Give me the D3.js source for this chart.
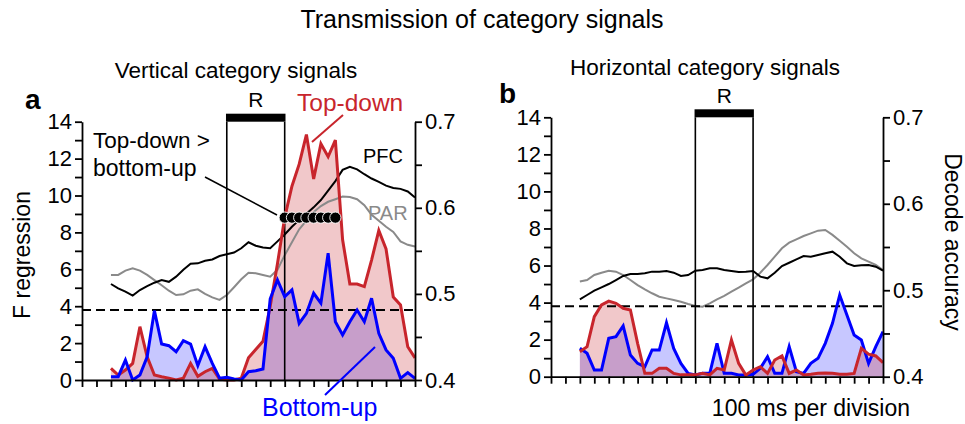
<!DOCTYPE html>
<html>
<head>
<meta charset="utf-8">
<script src="https://cdn.jsdelivr.net/npm/d3@7"></script>
<style>
  body { margin: 0; background: #fff; }
  svg text { font-family: "Liberation Sans", Arial, sans-serif; }
</style>
</head>
<body>
<svg id="chart" width="965" height="424"></svg>
<script>
// time in divisions (100 ms each), samples every half division
const steps = d3.range(2, 23.5, 0.5);

// panel a: vertical category signals
const bottomUpA = [0.18, 0.18, 1.08, 0.0, 0.27, 1.26, 3.76, 1.95, 1.86, 1.53,
    2.13, 1.95, 0.78, 1.8, 0.9, 0.1, 0.15, 0.05, 0.0, 0.45,
    0.5, 0.6, 4.4, 5.42, 4.52, 4.88, 3.07, 3.61, 4.7, 4.16,
    6.87, 3.16, 2.44, 3.16, 3.79, 3.16, 4.43, 2.53, 1.63, 1.18,
    0.09, 0.4, 0.09];
const topDownA = [0.63, 0.27, 0.54, 0.9, 2.89, 1.26, 0.27, 0.18, 0.1, 0.0,
    0.1, 0.9, 0.2, 0.45, 0.63, 0.05, 0.0, 0.0, 0.1, 1.2,
    1.65, 2.1, 4.0, 6.3, 8.8, 10.5, 11.7, 13.3, 10.9, 12.8,
    12.1, 13.0, 7.6, 5.2, 5.2, 5.06, 6.5, 8.1, 7.1, 4.5,
    4.07, 1.8, 1.2];
const pfcA = [0.5115, 0.5065, 0.5026, 0.498, 0.5045, 0.509, 0.513, 0.516, 0.514, 0.52,
    0.528, 0.535, 0.5355, 0.5385, 0.540, 0.544, 0.546, 0.548, 0.553, 0.560,
    0.556, 0.554, 0.553, 0.561, 0.569, 0.578, 0.586, 0.593, 0.6005, 0.609,
    0.620, 0.631, 0.644, 0.6477, 0.6447, 0.639, 0.634, 0.630, 0.6257, 0.623,
    0.622, 0.619, 0.612];
const parA = [0.522, 0.522, 0.527, 0.5297, 0.527, 0.522, 0.516, 0.510, 0.5037, 0.4987,
    0.4995, 0.5037, 0.5053, 0.5, 0.496, 0.493, 0.4987, 0.5077, 0.517, 0.5246,
    0.524, 0.522, 0.520, 0.528, 0.545, 0.56, 0.575, 0.585, 0.595, 0.602,
    0.607, 0.610, 0.613, 0.6125, 0.610, 0.603, 0.592, 0.585, 0.578, 0.572,
    0.561, 0.557, 0.555];
// samples where top-down > bottom-up
const signifA = [14, 14.5, 15, 15.5, 16, 16.5, 17, 17.5];

// panel b: horizontal category signals
const bottomUpB = [1.53, 1.26, 0.36, 0.36, 2.07, 2.16, 2.74, 1.17, 0.72, 0.54,
    1.44, 1.44, 2.91, 1.53, 0.72, 0.18, 0.09, 0.18, 0.18, 1.8,
    0.18, 0.18, 0.09, 0.09, 0.13, 0.45, 1.08, 0.18, 0.18, 1.62,
    0.27, 0.18, 0.72, 0.99, 1.8, 2.88, 4.41, 3.33, 2.25, 1.98,
    0.72, 1.62, 2.43];
const topDownB = [1.35, 1.62, 3.24, 3.87, 4.08, 3.96, 3.69, 3.6, 1.8, 0.18,
    0.18, 0.45, 0.45, 0.18, 0.1, 0.1, 0.1, 0.18, 0.1, 0.45,
    0.36, 1.98, 0.72, 0.09, 0.36, 0.54, 0.18, 0.9, 1.12, 0.18,
    0.36, 0.09, 0.13, 0.18, 0.2, 0.18, 0.13, 0.13, 0.18, 1.53,
    1.22, 1.12, 0.76];
const pfcB = [0.4895, 0.4945, 0.4995, 0.5034, 0.5072, 0.5118, 0.5165, 0.5188, 0.5188, 0.5196,
    0.5215, 0.5215, 0.5222, 0.5203, 0.5165, 0.5176, 0.5226, 0.5234, 0.5253, 0.5253,
    0.5234, 0.5222, 0.521, 0.5215, 0.5222, 0.5157, 0.5138, 0.5203, 0.528, 0.5318,
    0.5357, 0.5396, 0.5388, 0.5407, 0.5427, 0.5446, 0.5388, 0.5311, 0.528, 0.5288,
    0.5292, 0.5272, 0.5226];
const parB = [0.51, 0.5118, 0.5176, 0.5203, 0.5226, 0.5215, 0.5176, 0.5118, 0.506, 0.501,
    0.4965, 0.4925, 0.4906, 0.4887, 0.4867, 0.484, 0.4818, 0.481, 0.4849, 0.4895,
    0.4935, 0.4983, 0.503, 0.508, 0.5126, 0.5203, 0.5292, 0.5388, 0.5485, 0.555,
    0.5589, 0.5627, 0.5658, 0.5689, 0.5697, 0.564, 0.5573, 0.5503, 0.5427, 0.5369,
    0.533, 0.5292, 0.5234];

// axis ticks
const fTicks = d3.range(0, 15, 1);
const accTicks = [0.4, 0.45, 0.5, 0.55, 0.6, 0.65, 0.7];
const timeTicks = d3.range(0, 24, 1);
const threshold = 3.8;
const responseWindow = [10, 14];

const red = "#c8252c";
const blue = "#0000ff";
const grey = "#8a8a8a";

let svg = d3.select("#chart");

function panel(opt) {
    let x = d3.scaleLinear().domain([0, 23]).range([opt.left, opt.right]);
    let y = d3.scaleLinear().domain([0, 14]).range([opt.bottom, opt.top]);
    let yAcc = d3.scaleLinear().domain([0.4, 0.7]).range([opt.bottom, opt.top]);
    let g = svg.append("g");

    let area = d3.area().x((d, i) => x(steps[i])).y0(y(0)).y1(d => y(d));
    let line = d3.line().x((d, i) => x(steps[i])).y(d => y(d));
    let accLine = d3.line().x((d, i) => x(steps[i])).y(d => yAcc(d));

    // filled areas (blue under red so the overlap turns purple)
    g.append("path").attr("d", area(opt.bottomUp)).attr("fill", blue).attr("fill-opacity", 0.22);
    g.append("path").attr("d", area(opt.topDown)).attr("fill", red).attr("fill-opacity", 0.25);

    // decode accuracy lines
    g.append("path").attr("d", accLine(opt.par)).attr("fill", "none")
        .attr("stroke", grey).attr("stroke-width", 2);
    g.append("path").attr("d", accLine(opt.pfc)).attr("fill", "none")
        .attr("stroke", "#000").attr("stroke-width", 2);

    // threshold
    g.append("line")
        .attr("x1", x(0)).attr("x2", x(23))
        .attr("y1", y(threshold)).attr("y2", y(threshold))
        .attr("stroke", "#000").attr("stroke-width", 2)
        .attr("stroke-dasharray", "9,5");

    // response window box with bar on top
    responseWindow.forEach(t => {
        g.append("line").attr("x1", x(t)).attr("x2", x(t))
            .attr("y1", y(0)).attr("y2", y(14))
            .attr("stroke", "#000").attr("stroke-width", 1.6);
    });
    g.append("rect")
        .attr("x", x(responseWindow[0]) - 0.8)
        .attr("y", y(14) - 8)
        .attr("width", x(responseWindow[1]) - x(responseWindow[0]) + 1.6)
        .attr("height", 8)
        .attr("fill", "#000");
    g.append("text").attr("x", (x(responseWindow[0]) + x(responseWindow[1])) / 2)
        .attr("y", y(14) - 14.5).attr("text-anchor", "middle")
        .attr("font-size", 21).text("R");

    // F-regression lines
    let order = opt.redOnTop ? [["bottomUp", blue], ["topDown", red]] : [["topDown", red], ["bottomUp", blue]];
    order.forEach(([k, c]) => {
        g.append("path").attr("d", line(opt[k])).attr("fill", "none")
            .attr("stroke", c).attr("stroke-width", 3);
    });

    // axes
    let axL = g.append("g").attr("transform", `translate(${opt.left},0)`)
        .call(d3.axisLeft(y).tickValues(fTicks).tickSize(7).tickSizeOuter(0)
            .tickFormat(d => d % 2 === 0 ? d : ""));
    let axR = g.append("g").attr("transform", `translate(${opt.right},0)`)
        .call(d3.axisRight(yAcc).tickValues(accTicks).tickSize(7).tickSizeOuter(0)
            .tickFormat(d => Math.round(d * 100) % 10 === 0 ? d3.format(".1f")(d) : ""));
    let axB = g.append("g").attr("transform", `translate(0,${opt.bottom})`)
        .call(d3.axisBottom(x).tickValues(timeTicks).tickSize(7).tickSizeOuter(0).tickFormat(""));
    [axL, axR, axB].forEach(a => {
        a.attr("font-size", 22);
        a.selectAll("path, line").attr("stroke", "#000").attr("stroke-width", 1.8);
        a.selectAll("text").attr("font-size", 22).attr("fill", "#000")
            .attr("font-family", "'Liberation Sans', Arial, sans-serif");
    });
    axL.selectAll("text").attr("x", -10);
    axR.selectAll("text").attr("x", 10);

    return { g, x, y, yAcc };
}

let a = panel({
    left: 82, right: 415, top: 121.7, bottom: 380,
    bottomUp: bottomUpA, topDown: topDownA, pfc: pfcA, par: parA, redOnTop: false
});
let b = panel({
    left: 551, right: 883, top: 117.3, bottom: 376.7,
    bottomUp: bottomUpB, topDown: topDownB, pfc: pfcB, par: parB, redOnTop: true
});

// significance dots in panel a
a.g.selectAll("circle.sig").data(signifA).enter().append("circle")
    .attr("cx", d => a.x(d)).attr("cy", a.y(8.8)).attr("r", 5.6)
    .attr("fill", "#000").attr("stroke", "#fff").attr("stroke-width", 0.9);

// titles
svg.append("text").attr("x", 482).attr("y", 28).attr("text-anchor", "middle")
    .attr("font-size", 25).text("Transmission of category signals");
svg.append("text").attr("x", 236).attr("y", 78).attr("text-anchor", "middle")
    .attr("font-size", 22.5).text("Vertical category signals");
svg.append("text").attr("x", 705).attr("y", 75).attr("text-anchor", "middle")
    .attr("font-size", 22.5).text("Horizontal category signals");
svg.append("text").attr("x", 25).attr("y", 109).attr("font-size", 28)
    .attr("font-weight", "bold").text("a");
svg.append("text").attr("x", 499).attr("y", 103).attr("font-size", 28)
    .attr("font-weight", "bold").text("b");

// axis titles
svg.append("text").attr("transform", "translate(30,255) rotate(-90)")
    .attr("text-anchor", "middle").attr("font-size", 23).text("F regression");
svg.append("text").attr("transform", "translate(945,242) rotate(90)")
    .attr("text-anchor", "middle").attr("font-size", 23).text("Decode accuracy");
svg.append("text").attr("x", 910).attr("y", 416).attr("text-anchor", "end")
    .attr("font-size", 23).text("100 ms per division");

// panel a annotations
svg.append("text").attr("x", 297).attr("y", 111).attr("font-size", 24.5)
    .attr("fill", red).text("Top-down");
svg.append("line").attr("x1", 312).attr("y1", 142).attr("x2", 343).attr("y2", 115)
    .attr("stroke", red).attr("stroke-width", 2);
svg.append("text").attr("x", 262).attr("y", 416).attr("font-size", 25)
    .attr("fill", blue).text("Bottom-up");
svg.append("line").attr("x1", 325).attr("y1", 395).attr("x2", 375).attr("y2", 347)
    .attr("stroke", blue).attr("stroke-width", 2);
svg.append("text").attr("x", 93).attr("y", 148).attr("font-size", 22.5).text("Top-down >");
svg.append("text").attr("x", 93).attr("y", 176).attr("font-size", 23).text("bottom-up");
svg.append("line").attr("x1", 205).attr("y1", 177).attr("x2", 277).attr("y2", 215)
    .attr("stroke", "#000").attr("stroke-width", 1.5);
svg.append("text").attr("x", 363).attr("y", 163).attr("font-size", 20).text("PFC");
svg.append("text").attr("x", 368).attr("y", 220).attr("font-size", 20)
    .attr("fill", grey).text("PAR");
</script>
</body>
</html>
